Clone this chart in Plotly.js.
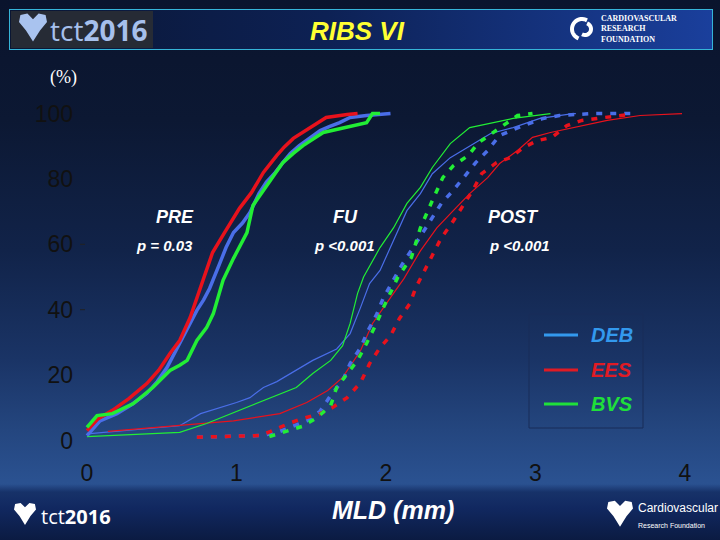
<!DOCTYPE html>
<html>
<head>
<meta charset="utf-8">
<script src="https://cdn.plot.ly/plotly-3.0.1.min.js"></script>
<style>
html,body{margin:0;padding:0;background:#0b1530;}
#wrap{position:relative;width:720px;height:540px;overflow:hidden;
  background:linear-gradient(to bottom,#0a142d 0px,#0c1833 120px,#112349 250px,#1a3466 360px,#24467f 430px,#2a5190 480px,#2c5494 540px);}
#foot{position:absolute;left:0;top:484px;width:720px;height:56px;
  background:linear-gradient(to bottom,rgba(23,50,105,0) 0px,#173269 8px,#112860 24px,#0b1b42 56px);}
#hdr{position:absolute;left:9px;top:9px;width:702px;height:39px;border:1.5px solid #36b4d8;
  background:linear-gradient(to right,#0a1633 0%,#0d2154 45%,#1a3f9c 100%);}
#logo{position:absolute;left:11px;top:11px;width:142px;height:37px;background:#262b35;}
#chart{position:absolute;left:0;top:0;width:720px;height:540px;}
</style>
</head>
<body>
<div id="wrap">
  <div id="foot"></div>
  <div id="hdr"></div>
  <div id="logo"></div>
  <div id="chart"></div>
</div>
<script>
// ---- data (MLD in mm, cumulative %) ----
const groups = ['DEB', 'EES', 'BVS'];
const xTicks = [0, 1, 2, 3, 4];
const yTicks = [0, 20, 40, 60, 80, 100];

const preDEB_x = [0, 0.087, 0.2, 0.30, 0.40, 0.47, 0.535, 0.62, 0.68, 0.735, 0.78, 0.82, 0.89, 0.93, 0.98, 1.04, 1.09, 1.15, 1.20, 1.26, 1.31, 1.36, 1.42, 1.49, 1.56, 1.62, 1.69, 1.76, 1.87, 2.03];
const preDEB_y = [1.5, 6, 8.2, 11.0, 14.4, 18.0, 22.3, 29.6, 34.5, 39.8, 43.0, 46.5, 54.4, 59.0, 63.6, 66.5, 69.7, 75.5, 79, 82, 85, 87.8, 90.2, 92.6, 94.8, 96.0, 97.2, 98.8, 99.4, 100];

const preEES_x = [0, 0.07, 0.17, 0.28, 0.40, 0.48, 0.555, 0.62, 0.69, 0.735, 0.78, 0.84, 0.92, 0.97, 1.02, 1.10, 1.18, 1.27, 1.32, 1.38, 1.49, 1.60, 1.74, 1.81];
const preEES_y = [3, 6.5, 9.2, 12.8, 17.4, 21.5, 26.6, 30.6, 37.6, 43.7, 49, 57.5, 63.6, 67.5, 71, 75.8, 82, 87.2, 89.8, 92.4, 95.7, 98.8, 99.7, 100];

const preBVS_x = [0, 0.067, 0.17, 0.31, 0.44, 0.555, 0.62, 0.67, 0.735, 0.80, 0.845, 0.87, 0.91, 0.98, 1.07, 1.11, 1.20, 1.31, 1.38, 1.445, 1.58, 1.74, 1.87, 1.91, 1.96];
const preBVS_y = [4, 7.6, 8.2, 11.3, 16.2, 21.4, 23.0, 24.5, 30.6, 34.5, 38.8, 43, 49, 55.7, 63.6, 71.9, 78, 85, 87.8, 90.2, 94.2, 96, 97.2, 100, 100];

const fuDEB_x = [0.735, 1.16, 1.27, 1.47, 1.56, 1.63, 1.71, 1.76, 1.83, 1.88, 1.94, 1.98, 2.04, 2.11, 2.21, 2.29, 2.37, 2.45, 2.52, 2.60, 2.68, 2.76, 2.90, 3.05, 3.16, 3.38, 3.67];
const fuDEB_y = [1, 1.5, 2.4, 6, 9, 13.8, 18.3, 23.5, 28.4, 33.6, 38.8, 43.4, 48.3, 54, 61, 66.7, 72.5, 76.5, 80.4, 85, 88.7, 93.3, 96, 98.5, 99.4, 100, 100];

const fuEES_x = [0.735, 1.16, 1.24, 1.35, 1.44, 1.56, 1.64, 1.74, 1.83, 1.89, 1.96, 2.03, 2.09, 2.16, 2.20, 2.26, 2.31, 2.37, 2.44, 2.51, 2.58, 2.64, 2.74, 2.83, 2.92, 3.01, 3.11, 3.21, 3.31, 3.41, 3.51, 3.62];
const fuEES_y = [1, 1.5, 3, 5.2, 6.7, 8.2, 10, 13.1, 17.7, 23.5, 28.4, 32, 37.3, 41.9, 46.8, 52, 56.6, 62, 66.4, 71.3, 76.5, 81.6, 85, 86.5, 89.6, 91.7, 92.7, 96.3, 97.9, 98.5, 99.1, 99.7];

const fuBVS_x = [1.22, 1.34, 1.44, 1.54, 1.63, 1.67, 1.74, 1.81, 1.87, 1.93, 1.98, 2.03, 2.08, 2.17, 2.23, 2.31, 2.38, 2.45, 2.55, 2.62, 2.71, 2.80, 2.88, 2.98];
const fuBVS_y = [1.2, 2.8, 4.3, 7, 10.7, 16.2, 20.5, 24.5, 29.7, 35.2, 40.4, 45, 50, 56, 65, 73.4, 80.4, 84, 87.2, 91.1, 93.9, 97, 99.4, 100];

const postDEB_x = [0, 0.62, 0.76, 0.89, 1.0, 1.09, 1.18, 1.27, 1.36, 1.51, 1.67, 1.76, 1.83, 1.89, 1.96, 2.05, 2.14, 2.23, 2.31, 2.43, 2.54, 2.70, 2.85, 3.03, 3.25, 3.27];
const postDEB_y = [2, 4.5, 8.2, 10, 11.6, 13.1, 16.2, 18.0, 20.5, 24.5, 28, 32.7, 40.7, 48, 52, 61, 70.3, 75.5, 81.6, 86.5, 89.6, 93.9, 95.7, 98.5, 100, 100];

const postEES_x = [0.14, 0.62, 0.98, 1.29, 1.47, 1.61, 1.71, 1.83, 1.91, 2.03, 2.12, 2.23, 2.34, 2.45, 2.56, 2.68, 2.76, 2.88, 2.98, 3.10, 3.25, 3.48, 3.70, 3.98];
const postEES_y = [2.8, 4.6, 6, 8.2, 11.6, 15.3, 19.3, 27.5, 35.8, 43.7, 49.5, 58, 65, 70.3, 75.5, 80.4, 84.7, 88.7, 92.7, 94.2, 95.7, 97.9, 99.4, 100];

const postBVS_x = [0, 0.62, 0.80, 0.98, 1.22, 1.40, 1.51, 1.63, 1.71, 1.76, 1.81, 1.85, 1.96, 2.05, 2.14, 2.23, 2.31, 2.43, 2.56, 2.70, 2.85, 3.10];
const postBVS_y = [1.2, 2.5, 5.2, 8.5, 12.8, 16.2, 20.5, 24.5, 29, 35.8, 45, 50, 59, 65, 72.5, 77.4, 83.5, 90.8, 95.7, 97, 98.5, 100];

const panelLabels = ['PRE', 'FU', 'POST'];
const pLabels = ['p = 0.03', 'p <0.001', 'p <0.001'];

// ---- styling ----
const COL = {DEB: '#4a6ee8', EES: '#e8121c', BVS: '#22ee35'};
const LEGCOL = {DEB: '#3399ee', EES: '#e01b24', BVS: '#1fe03a'};

// plot area geometry (pixels) for paper-coord helpers
const L = 84, T = 107, W = 604, H = 340;
const px = x => (x - L) / W;
const py = y => (T + H - y) / H;

function tr(x, y, c, kind) {
  const line = {color: c, width: 3.5, shape: 'linear'};
  if (kind === 'post') line.width = 1.2;
  if (kind === 'fu') line.dash = '6px,8px';
  return {x: x, y: y, type: 'scatter', mode: 'lines', line: line, showlegend: false, hoverinfo: 'skip'};
}

const data = [
  tr(postDEB_x, postDEB_y, COL.DEB, 'post'),
  tr(postEES_x, postEES_y, COL.EES, 'post'),
  tr(postBVS_x, postBVS_y, COL.BVS, 'post'),
  tr(fuDEB_x, fuDEB_y, COL.DEB, 'fu'),
  tr(fuEES_x, fuEES_y, COL.EES, 'fu'),
  tr(fuBVS_x, fuBVS_y, COL.BVS, 'fu'),
  tr(preDEB_x, preDEB_y, COL.DEB, 'pre'),
  tr(preEES_x, preEES_y, COL.EES, 'pre'),
  tr(preBVS_x, preBVS_y, COL.BVS, 'pre')
];

const SANS = 'Liberation Sans, Arial, sans-serif';
const NARROW = 'Liberation Sans Narrow, Arial Narrow, Liberation Sans, sans-serif';
const SERIF = 'Liberation Serif, Times New Roman, serif';

function ann(text, x, y, size, color, opts) {
  return Object.assign({text: text, x: px(x), y: py(y), xref: 'paper', yref: 'paper',
    showarrow: false, xanchor: 'center', yanchor: 'middle',
    font: {family: SANS, size: size, color: color}}, opts || {});
}

const annotations = [
  ann('<b><i>RIBS VI</i></b>', 357, 31, 26, '#ffff33'),
  ann('(%)', 63, 77, 18, '#ffffff', {font: {family: SERIF, size: 18, color: '#ffffff'}}),
  ann('<b><i>' + panelLabels[0] + '</i></b>', 175, 217, 18, '#ffffff'),
  ann('<b><i>' + pLabels[0] + '</i></b>', 164, 245, 15, '#ffffff'),
  ann('<b><i>' + panelLabels[1] + '</i></b>', 345, 217, 18, '#ffffff'),
  ann('<b><i>' + pLabels[1] + '</i></b>', 344, 245, 15, '#ffffff'),
  ann('<b><i>' + panelLabels[2] + '</i></b>', 513, 217, 18, '#ffffff'),
  ann('<b><i>' + pLabels[2] + '</i></b>', 519, 245, 15, '#ffffff'),
  ann('<b><i>MLD (mm)</i></b>', 393, 510, 25, '#ffffff'),
  // logos text
  ann('tct<b>2016</b>', 48, 30, 28, '#a6c0ec', {xanchor: 'left', font: {family: 'Open Sans, sans-serif', size: 28, color: '#a6c0ec'}}),
  ann('tct<b>2016</b>', 39, 516, 20, '#ffffff', {xanchor: 'left', font: {family: 'Open Sans, sans-serif', size: 20, color: '#ffffff'}}),
  ann('Cardiovascular<br><span style="font-size:7px">Research Foundation</span>', 636, 515, 12, '#ffffff',
      {xanchor: 'left', align: 'left', font: {family: NARROW, size: 12, color: '#ffffff'}}),
  ann('<b>CARDIOVASCULAR<br>RESEARCH<br>FOUNDATION</b>', 599, 29.5, 8, '#ffffff',
      {xanchor: 'left', align: 'left', font: {family: SERIF, size: 8, color: '#ffffff'}})
];

// legend (drawn)
const legY = [335, 370, 404];
groups.forEach((g, i) => {
  annotations.push(ann('<b><i>' + g + '</i></b>', 589, legY[i], 20, LEGCOL[g], {xanchor: 'left'}));
});

const shapes = [
  {type: 'rect', xref: 'paper', yref: 'paper', x0: px(529), x1: px(643), y0: py(314), y1: py(428),
   line: {color: '#182c58', width: 1}, fillcolor: 'rgba(0,0,0,0)'},
  {type: 'line', xref: 'paper', yref: 'y', x0: px(80), x1: px(85), y0: 60, y1: 60, line: {color: '#222', width: 1}},
  {type: 'line', xref: 'paper', yref: 'y', x0: px(80), x1: px(85), y0: 40, y1: 40, line: {color: '#222', width: 1}}
];
groups.forEach((g, i) => {
  shapes.push({type: 'line', xref: 'paper', yref: 'paper', x0: px(544), x1: px(578), y0: py(legY[i]), y1: py(legY[i]),
    line: {color: LEGCOL[g], width: 3}});
});

// heart-like logo paths (pixel outline converted to paper coords)
function heart(cx, cy, s, color) {
  const pts = [[0, 0.45], [-0.25, 0.05], [-0.5, -0.25], [-0.45, -0.5], [-0.2, -0.55], [0, -0.35],
               [0.2, -0.55], [0.45, -0.5], [0.5, -0.25], [0.25, 0.05]];
  let d = '';
  pts.forEach((p, i) => {
    d += (i ? ' L ' : 'M ') + px(cx + p[0] * s).toFixed(5) + ',' + py(cy + p[1] * s).toFixed(5);
  });
  d += ' Z';
  return {type: 'path', xref: 'paper', yref: 'paper', path: d, fillcolor: color, line: {width: 0}};
}
shapes.push(heart(33, 29, 28, '#a9c3ef'));
shapes.push(heart(25, 515, 22, '#ffffff'));
shapes.push(heart(620, 515, 26, '#ffffff'));
// CRF swirl
function arc(cx, cy, r, a0, a1, color, w) {
  let d = '';
  for (let k = 0; k <= 20; k++) {
    const a = (a0 + (a1 - a0) * k / 20) * Math.PI / 180;
    d += (k ? ' L ' : 'M ') + px(cx + r * Math.cos(a)).toFixed(5) + ',' + py(cy - r * Math.sin(a)).toFixed(5);
  }
  return {type: 'path', xref: 'paper', yref: 'paper', path: d, line: {color: color, width: w}};
}
shapes.push(arc(582, 29, 10, 60, 250, '#ffffff', 4));
shapes.push(arc(585, 29, 6, -120, 70, '#ffffff', 4));

const axisCommon = {
  showgrid: false, zeroline: false, showline: false, ticks: '',
  tickfont: {family: NARROW, size: 23, color: '#111111'}, fixedrange: true
};

const layout = {
  width: 720, height: 540,
  margin: {l: L, r: 720 - L - W, t: T, b: 540 - T - H},
  paper_bgcolor: 'rgba(0,0,0,0)', plot_bgcolor: 'rgba(0,0,0,0)',
  showlegend: false,
  xaxis: Object.assign({}, axisCommon, {range: [-0.02, 4.02], tickvals: xTicks, ticktext: xTicks.map(String), ticklabelstandoff: 10}),
  yaxis: Object.assign({}, axisCommon, {range: [-2, 102], tickvals: yTicks, ticktext: yTicks.map(String), ticklabelstandoff: 10}),
  annotations: annotations,
  shapes: shapes
};

Plotly.newPlot('chart', data, layout, {staticPlot: true, displayModeBar: false});
</script>
</body>
</html>
